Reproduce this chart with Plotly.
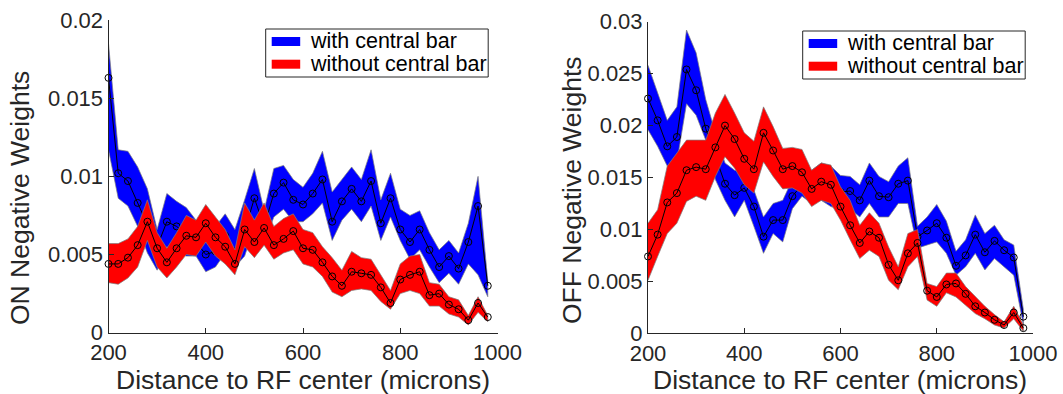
import plotly.graph_objects as go

# ---------------- data ----------------
distance = [200, 220, 240, 260, 280, 300, 320, 340, 360, 380,
            400, 420, 440, 460, 480, 500, 520, 540, 560, 580,
            600, 620, 640, 660, 680, 700, 720, 740, 760, 780,
            800, 820, 840, 860, 880, 900, 920, 940, 960, 980]

# ON panel - with central bar
on_with_mean = [0.0163, 0.0102, 0.0097, 0.0083, 0.0068, 0.0055, 0.0071, 0.0068, 0.0063, 0.0058,
                0.0050, 0.0052, 0.0062, 0.0052, 0.0065, 0.0086, 0.0068, 0.0089, 0.0096, 0.0085,
                0.0082, 0.0089, 0.0098, 0.0071, 0.0084, 0.0092, 0.0084, 0.0097, 0.0070, 0.0086,
                0.0066, 0.0058, 0.0066, 0.0053, 0.0042, 0.0049, 0.0041, 0.0058, 0.0081, 0.0030]
on_with_hi = [0.0185, 0.0117, 0.0116, 0.0106, 0.0092, 0.0066, 0.0089, 0.0084, 0.0080, 0.0072,
              0.0066, 0.0068, 0.0076, 0.0066, 0.0085, 0.0105, 0.0078, 0.0105, 0.0107, 0.0098,
              0.0093, 0.0102, 0.0116, 0.0090, 0.0098, 0.0106, 0.0098, 0.0117, 0.0085, 0.0102,
              0.0079, 0.0075, 0.0078, 0.0064, 0.0053, 0.0059, 0.0051, 0.0070, 0.0100, 0.0033]
on_with_lo = [0.0117, 0.0086, 0.0081, 0.0068, 0.0051, 0.0040, 0.0055, 0.0051, 0.0049, 0.0049,
              0.0039, 0.0042, 0.0051, 0.0042, 0.0049, 0.0068, 0.0057, 0.0074, 0.0079, 0.0071,
              0.0071, 0.0076, 0.0083, 0.0059, 0.0072, 0.0079, 0.0071, 0.0081, 0.0059, 0.0074,
              0.0059, 0.0047, 0.0053, 0.0042, 0.0032, 0.0038, 0.0031, 0.0044, 0.0037, 0.0023]

# ON panel - without central bar
on_wo_mean = [0.0044, 0.0044, 0.0048, 0.0056, 0.0071, 0.0054, 0.0045, 0.0054, 0.0062, 0.0061,
              0.0070, 0.0061, 0.0055, 0.0044, 0.0066, 0.0058, 0.0067, 0.0056, 0.0060, 0.0065,
              0.0054, 0.0053, 0.0045, 0.0036, 0.0030, 0.0039, 0.0038, 0.0037, 0.0029, 0.0019,
              0.0034, 0.0037, 0.0039, 0.0024, 0.0025, 0.0018, 0.0015, 0.0008, 0.0019, 0.0010]
on_wo_hi = [0.0057, 0.0057, 0.0060, 0.0068, 0.0085, 0.0064, 0.0054, 0.0064, 0.0075, 0.0072,
            0.0082, 0.0074, 0.0066, 0.0053, 0.0083, 0.0072, 0.0083, 0.0068, 0.0073, 0.0076,
            0.0066, 0.0064, 0.0055, 0.0048, 0.0040, 0.0052, 0.0048, 0.0047, 0.0037, 0.0027,
            0.0044, 0.0049, 0.0050, 0.0032, 0.0031, 0.0023, 0.0021, 0.0011, 0.0023, 0.0011]
on_wo_lo = [0.0032, 0.0031, 0.0035, 0.0042, 0.0059, 0.0042, 0.0035, 0.0042, 0.0050, 0.0049,
            0.0058, 0.0049, 0.0044, 0.0037, 0.0055, 0.0048, 0.0056, 0.0047, 0.0051, 0.0053,
            0.0044, 0.0042, 0.0036, 0.0026, 0.0023, 0.0027, 0.0028, 0.0027, 0.0020, 0.0015,
            0.0025, 0.0027, 0.0025, 0.0017, 0.0017, 0.0012, 0.0010, 0.0005, 0.0013, 0.0007]

# OFF panel - with central bar
off_with_mean = [0.0226, 0.0205, 0.0180, 0.0189, 0.0254, 0.0234, 0.0197, 0.0170, 0.0144, 0.0133,
                 0.0140, 0.0122, 0.0093, 0.0109, 0.0109, 0.0132, 0.0143, 0.0143, 0.0145, 0.0142,
                 0.0136, 0.0137, 0.0128, 0.0147, 0.0132, 0.0131, 0.0144, 0.0147, 0.0093, 0.0099,
                 0.0106, 0.0092, 0.0065, 0.0075, 0.0095, 0.0078, 0.0089, 0.0080, 0.0073, 0.0016]
off_with_hi = [0.0258, 0.0231, 0.0205, 0.0218, 0.0292, 0.0270, 0.0225, 0.0193, 0.0164, 0.0157,
               0.0154, 0.0138, 0.0112, 0.0125, 0.0128, 0.0148, 0.0159, 0.0157, 0.0164, 0.0161,
               0.0152, 0.0151, 0.0143, 0.0164, 0.0151, 0.0146, 0.0161, 0.0169, 0.0103, 0.0112,
               0.0124, 0.0108, 0.0079, 0.0090, 0.0114, 0.0096, 0.0104, 0.0090, 0.0085, 0.0023]
off_with_lo = [0.0196, 0.0180, 0.0161, 0.0165, 0.0221, 0.0210, 0.0186, 0.0148, 0.0128, 0.0112,
               0.0128, 0.0103, 0.0077, 0.0096, 0.0088, 0.0120, 0.0132, 0.0125, 0.0128, 0.0122,
               0.0119, 0.0120, 0.0112, 0.0125, 0.0112, 0.0112, 0.0125, 0.0125, 0.0082, 0.0085,
               0.0088, 0.0077, 0.0056, 0.0064, 0.0077, 0.0061, 0.0072, 0.0064, 0.0056, 0.0008]

# OFF panel - without central bar
off_wo_mean = [0.0074, 0.0095, 0.0126, 0.0135, 0.0157, 0.0160, 0.0158, 0.0179, 0.0200, 0.0187,
               0.0168, 0.0158, 0.0193, 0.0176, 0.0158, 0.0161, 0.0155, 0.0139, 0.0146, 0.0143,
               0.0122, 0.0104, 0.0087, 0.0098, 0.0092, 0.0066, 0.0051, 0.0077, 0.0087, 0.0041,
               0.0035, 0.0047, 0.0048, 0.0038, 0.0026, 0.0020, 0.0013, 0.0008, 0.0020, 0.0005]
off_wo_hi = [0.0106, 0.0119, 0.0161, 0.0173, 0.0186, 0.0186, 0.0186, 0.0212, 0.0230, 0.0212,
             0.0193, 0.0185, 0.0218, 0.0199, 0.0178, 0.0179, 0.0177, 0.0157, 0.0164, 0.0162,
             0.0141, 0.0128, 0.0104, 0.0116, 0.0106, 0.0083, 0.0064, 0.0096, 0.0100, 0.0048,
             0.0045, 0.0058, 0.0058, 0.0045, 0.0035, 0.0026, 0.0018, 0.0011, 0.0026, 0.0008]
off_wo_lo = [0.0051, 0.0074, 0.0096, 0.0106, 0.0127, 0.0132, 0.0128, 0.0151, 0.0170, 0.0159,
             0.0143, 0.0135, 0.0165, 0.0151, 0.0139, 0.0140, 0.0135, 0.0122, 0.0128, 0.0125,
             0.0109, 0.0090, 0.0072, 0.0080, 0.0074, 0.0051, 0.0042, 0.0064, 0.0074, 0.0032,
             0.0026, 0.0039, 0.0035, 0.0027, 0.0019, 0.0014, 0.0008, 0.0005, 0.0014, 0.0002]

series_names = ["with central bar", "without central bar"]
series_colors = ["#0000FF", "#FF0000"]
x_ticks = [200, 400, 600, 800, 1000]
on_y_ticks = [0, 0.005, 0.01, 0.015, 0.02]
on_y_labels = ["0", "0.005", "0.01", "0.015", "0.02"]
off_y_ticks = [0, 0.005, 0.01, 0.015, 0.02, 0.025, 0.03]
off_y_labels = ["0", "0.005", "0.01", "0.015", "0.02", "0.025", "0.03"]
x_title = "Distance to RF center (microns)"
on_title = "ON Negative Weights"
off_title = "OFF Negative Weights"

# ---------------- figure ----------------
W, H = 1063, 394
FONT = "Liberation Sans, Arial, Helvetica, sans-serif"
AX = "#262626"
fig = go.Figure()


def add_panel(xa, ya, groups):
    for (mean, lo, hi, color, name) in groups:
        fig.add_trace(go.Scatter(
            x=distance + distance[::-1], y=hi + lo[::-1],
            fill="toself", fillcolor=color, mode="lines",
            line=dict(color="rgba(125,125,125,0.9)", width=0.8),
            name=name, showlegend=False, xaxis=xa, yaxis=ya, hoverinfo="skip"))
        fig.add_trace(go.Scatter(
            x=distance, y=mean, mode="lines+markers",
            line=dict(color="black", width=1),
            marker=dict(symbol="circle-open", size=7, color="black",
                        line=dict(width=1, color="black")),
            showlegend=False, xaxis=xa, yaxis=ya, cliponaxis=False))


add_panel("x", "y", [
    (on_with_mean, on_with_lo, on_with_hi, series_colors[0], series_names[0]),
    (on_wo_mean, on_wo_lo, on_wo_hi, series_colors[1], series_names[1]),
])
add_panel("x2", "y2", [
    (off_with_mean, off_with_lo, off_with_hi, series_colors[0], series_names[0]),
    (off_wo_mean, off_wo_lo, off_wo_hi, series_colors[1], series_names[1]),
])

axis_common = dict(showline=True, linecolor=AX, linewidth=1, mirror=False,
                   showgrid=False, zeroline=False, ticks="inside", ticklen=5,
                   tickcolor=AX, tickwidth=1, automargin=False,
                   tickfont=dict(family=FONT, size=22, color=AX))


def px(x):
    return x / W


def py(y):
    return (H - y) / H


# legend boxes drawn as shapes + text (box left, top in pixels)
shapes = []
annotations = []
for (bx, by) in [(265.7, 29.0), (802.7, 31.0)]:
    shapes.append(dict(type="rect", xref="paper", yref="paper",
                       x0=px(bx), x1=px(bx + 222.5), y0=py(by + 48), y1=py(by),
                       line=dict(color=AX, width=1), fillcolor="white", layer="above"))
    for k in range(2):
        cy = by + 12.5 + 22.7 * k
        shapes.append(dict(type="rect", xref="paper", yref="paper",
                           x0=px(bx + 6), x1=px(bx + 34.5), y0=py(cy + 4.5), y1=py(cy - 4.5),
                           line=dict(width=0), fillcolor=series_colors[k], layer="above"))
        annotations.append(dict(text=series_names[k], x=px(bx + 42), y=py(cy),
                                xref="paper", yref="paper", showarrow=False,
                                xanchor="left", yanchor="middle",
                                font=dict(family=FONT, size=21.5, color="black")))

title_font = dict(family=FONT, size=26.5, color=AX)
annotations += [
    dict(text=x_title, x=px(303), y=py(380), xref="paper", yref="paper",
         showarrow=False, xanchor="center", yanchor="middle", font=title_font),
    dict(text=x_title, x=px(840), y=py(380), xref="paper", yref="paper",
         showarrow=False, xanchor="center", yanchor="middle", font=title_font),
    dict(text=on_title, x=px(20), y=py(198), xref="paper", yref="paper",
         showarrow=False, xanchor="center", yanchor="middle", textangle=-90, font=title_font),
    dict(text=off_title, x=px(572), y=py(190), xref="paper", yref="paper",
         showarrow=False, xanchor="center", yanchor="middle", textangle=-90, font=title_font),
]

fig.update_layout(
    width=W, height=H,
    margin=dict(l=0, r=0, t=0, b=0),
    paper_bgcolor="white", plot_bgcolor="white",
    showlegend=False,
    xaxis=dict(domain=[px(108.5), px(497.5)], range=[200, 1000], tickvals=x_ticks,
               anchor="y", **axis_common),
    yaxis=dict(domain=[py(332.7), py(20)], range=[0, 0.02],
               tickvals=on_y_ticks, ticktext=on_y_labels, anchor="x", **axis_common),
    xaxis2=dict(domain=[px(648), px(1033)], range=[200, 1000], tickvals=x_ticks,
                anchor="y2", **axis_common),
    yaxis2=dict(domain=[py(333.3), py(21.7)], range=[0, 0.03],
                tickvals=off_y_ticks, ticktext=off_y_labels, anchor="x2", **axis_common),
    shapes=shapes,
    annotations=annotations,
)

fig.write_html("out.html", config={"displayModeBar": False})
